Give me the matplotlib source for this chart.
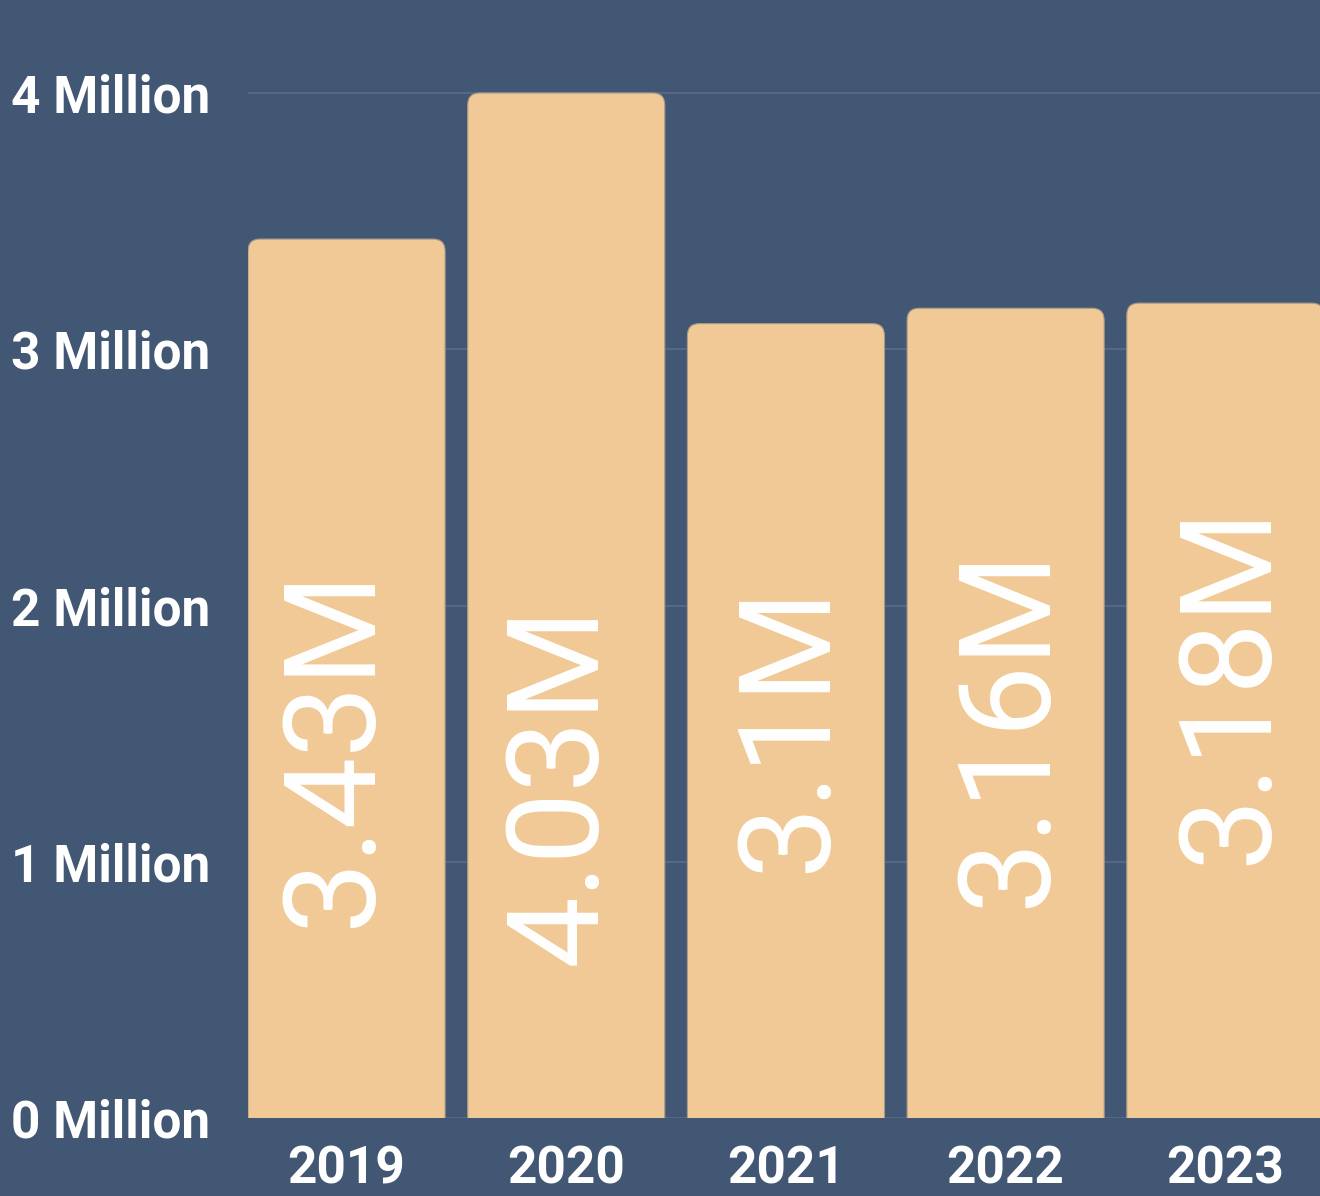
import numpy as np
import matplotlib
matplotlib.use('Agg')
import matplotlib.pyplot as plt
from matplotlib.patches import FancyBboxPatch

years = ['2019', '2020', '2021', '2022', '2023']
values = [3.43, 4.03, 3.10, 3.16, 3.18]          # millions
value_labels = ['3.43M', '4.03M', '3.1M', '3.16M', '3.18M']
y_ticks = [0, 1, 2, 3, 4]
y_tick_labels = ['%d Million' % t for t in y_ticks]

# where the rotated value labels sit inside each bar
label_dx = [0.109, 0.133, 0.177, 0.182, 0.186]
label_y = [1.446, 1.302, 1.520, 1.524, 1.692]

bg = '#425774'
bar_color = '#F0C996'
grid_color = '#566a88'

axis_cap = 4.0
bar_width = 0.897

plt.rcParams['font.family'] = ['Roboto', 'DejaVu Sans']

fig = plt.figure(figsize=(13.2, 11.96), dpi=100)
fig.patch.set_facecolor(bg)
ax = fig.add_axes([248 / 1320, 78 / 1196, 1072 / 1320, 1118 / 1196])
ax.set_facecolor(bg)

x = np.arange(len(years))
ax.set_xlim(-bar_width / 2, -bar_width / 2 + 1072 / 219.7)
ax.set_ylim(0, 1118 / 256.25)

# rounded top corners; bottom is pushed below zero so it gets clipped square
aspect = (1 / 256.25) / (1 / 219.7)
r = 0.055
heights = np.minimum(values, axis_cap)
for xi, h in zip(x, heights):
    patch = FancyBboxPatch((xi - bar_width / 2, -0.2), bar_width, h + 0.2,
                           boxstyle='round,pad=0,rounding_size=%f' % r,
                           mutation_aspect=aspect,
                           facecolor=bar_color, edgecolor='#a89a86',
                           linewidth=0.8, zorder=2)
    ax.add_patch(patch)

for xi, dx, ly, lab in zip(x, label_dx, label_y, value_labels):
    ax.text(xi + dx, ly, lab, rotation=90, rotation_mode='anchor',
            ha='center', va='baseline', color='white', fontsize=92,
            zorder=3)

for t in y_ticks:
    ax.axhline(t, color=grid_color, linewidth=1.3, zorder=1)

ax.set_yticks(y_ticks)
ax.set_yticklabels(y_tick_labels)
ax.set_xticks(x)
ax.set_xticklabels(years)
ax.tick_params(axis='y', length=0, pad=27, labelsize=37, labelcolor='white')
ax.tick_params(axis='x', length=0, pad=19, labelsize=37, labelcolor='white')
for lab in ax.get_xticklabels() + ax.get_yticklabels():
    lab.set_fontweight('bold')

for s in ax.spines.values():
    s.set_visible(False)

fig.savefig('out.png', dpi=100, facecolor=bg)
